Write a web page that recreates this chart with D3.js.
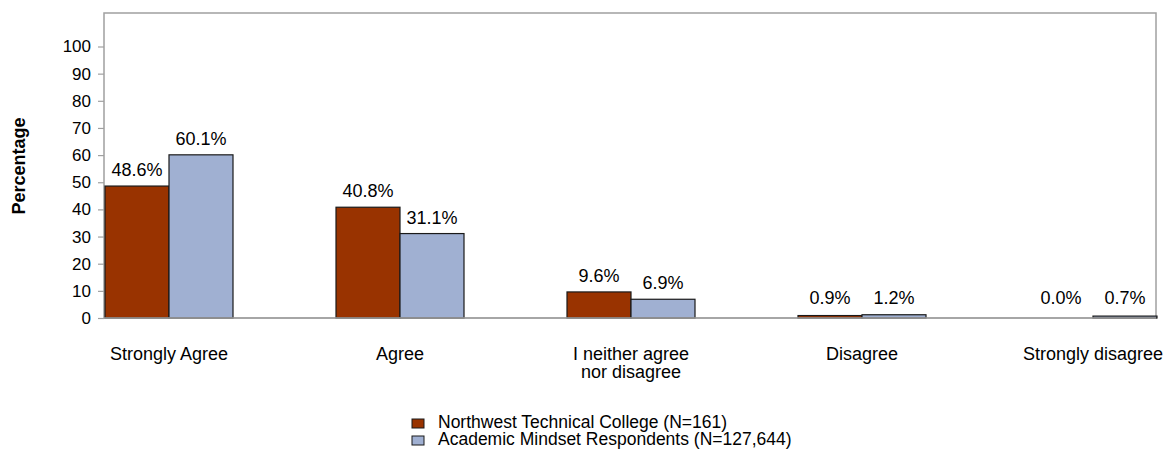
<!DOCTYPE html>
<html>
<head>
<meta charset="utf-8">
<script src="https://cdn.jsdelivr.net/npm/d3@7"></script>
<style>
  html, body { margin: 0; padding: 0; background: #ffffff; }
  svg { display: block; font-family: "Liberation Sans", Arial, Helvetica, sans-serif; }
</style>
</head>
<body>
<svg id="chart" width="1168" height="452"></svg>
<script>
// ---- data ----
const categories = ["Strongly Agree", "Agree", "I neither agree\nnor disagree", "Disagree", "Strongly disagree"];
const seriesNames = ["Northwest Technical College (N=161)", "Academic Mindset Respondents (N=127,644)"];
const northwestValues = [48.6, 40.8, 9.6, 0.9, 0.0];
const academicValues = [60.1, 31.1, 6.9, 1.2, 0.7];
const yTicks = [0, 10, 20, 30, 40, 50, 60, 70, 80, 90, 100];
const seriesColors = ["#993300", "#A0B0D2"];

const seriesValues = [northwestValues, academicValues];

const svg = d3.select("#chart");
const frame = { left: 104, right: 1156, top: 13, bottom: 318 };

const x = d3.scaleBand().domain(categories).range([53.5, 1208.5]).padding(0);
const x1 = d3.scaleBand().domain(seriesNames).range([-64, 64]).padding(0);
const y = d3.scaleLinear().domain([0, 100]).range([318, 46.5]);

// frame
svg.append("rect")
  .attr("x", frame.left).attr("y", frame.top)
  .attr("width", frame.right - frame.left).attr("height", frame.bottom - frame.top)
  .attr("fill", "none").attr("stroke", "#a0a0a0").attr("stroke-width", 1.5);

// y axis
const yAxis = svg.append("g")
  .attr("transform", `translate(${frame.left},0)`)
  .call(d3.axisLeft(y).tickValues(yTicks).tickSize(6).tickPadding(7).tickFormat(d3.format("d")));
yAxis.select(".domain").remove();
yAxis.selectAll(".tick line").attr("stroke", "#a0a0a0").attr("stroke-width", 1.2);
yAxis.selectAll(".tick text")
  .attr("fill", "#000").style("font-size", "17px")
  .style("font-family", "'Liberation Sans', Arial, sans-serif");

// y title
svg.append("text")
  .attr("transform", "translate(25,166) rotate(-90)")
  .attr("text-anchor", "middle")
  .style("font-size", "18px").style("font-weight", "bold")
  .text("Percentage");

// bars
const groups = svg.append("g").selectAll("g")
  .data(categories)
  .join("g")
  .attr("transform", c => `translate(${x(c) + x.bandwidth() / 2},0)`);

seriesNames.forEach((s, si) => {
  groups.append("rect")
    .attr("x", x1(s))
    .attr("y", (c, i) => y(seriesValues[si][i]))
    .attr("width", x1.bandwidth())
    .attr("height", (c, i) => y(0) - y(seriesValues[si][i]))
    .attr("fill", seriesColors[si])
    .attr("stroke", "#1a1a1a").attr("stroke-width", 1.2);
  groups.append("text")
    .attr("x", x1(s) + x1.bandwidth() / 2)
    .attr("y", (c, i) => Math.min(y(seriesValues[si][i]), y(0) - 4) - 10)
    .attr("text-anchor", "middle")
    .style("font-size", "18px")
    .text((c, i) => d3.format(".1f")(seriesValues[si][i]) + "%");
});

// baseline
svg.append("line")
  .attr("x1", frame.left).attr("x2", frame.right)
  .attr("y1", y(0)).attr("y2", y(0))
  .attr("stroke", "#a0a0a0").attr("stroke-width", 1.5);

// category labels
const catLabels = svg.append("g").selectAll("text")
  .data(categories)
  .join("text")
  .attr("x", c => x(c) + x.bandwidth() / 2)
  .attr("y", 360)
  .attr("text-anchor", "middle")
  .style("font-size", "18px");
catLabels.each(function (c) {
  const t = d3.select(this);
  c.split("\n").forEach((line, li) => {
    t.append("tspan")
      .attr("x", x(c) + x.bandwidth() / 2)
      .attr("dy", li === 0 ? 0 : 18)
      .text(line);
  });
});

// legend
const legend = svg.append("g").attr("transform", "translate(412,0)");
seriesNames.forEach((s, si) => {
  const baseY = 428 + si * 17;
  legend.append("rect")
    .attr("x", 0).attr("y", baseY - 9)
    .attr("width", 12).attr("height", 9)
    .attr("fill", seriesColors[si])
    .attr("stroke", "#1a1a1a").attr("stroke-width", 1);
  legend.append("text")
    .attr("x", 26).attr("y", baseY)
    .style("font-size", "17.5px")
    .text(s);
});
</script>
</body>
</html>
